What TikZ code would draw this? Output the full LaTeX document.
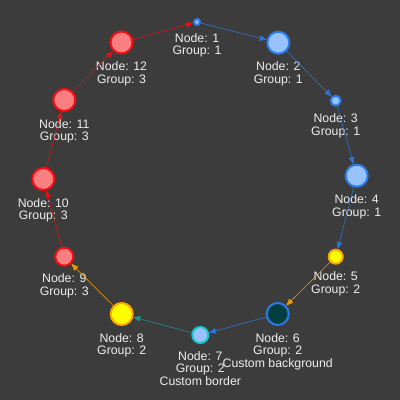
\documentclass[tikz,border=0pt]{standalone}
\usepackage{fontspec}
\setmainfont{Liberation Sans}
\usetikzlibrary{arrows.meta,positioning}
\definecolor{bgdark}{HTML}{3C3C3C}
\definecolor{grpAfill}{HTML}{97C2FC}
\definecolor{grpAline}{HTML}{2B7CE9}
\definecolor{grpBfill}{HTML}{FFFF00}
\definecolor{grpBline}{HTML}{FFA500}
\definecolor{grpCfill}{HTML}{FB7E81}
\definecolor{grpCline}{HTML}{FA0A10}
\definecolor{custbg}{HTML}{033F40}
\definecolor{custline}{HTML}{17C8C8}
\definecolor{lbltext}{HTML}{EEEEEE}
\tikzset{
	dot/.style={circle, draw, line width=2pt, inner sep=0pt, minimum size=#1},
	grpA/.style={dot=#1, fill=grpAfill, draw=grpAline},
	grpB/.style={dot=#1, fill=grpBfill, draw=grpBline},
	grpC/.style={dot=#1, fill=grpCfill, draw=grpCline},
	lbl/.style={text=lbltext, align=center, inner sep=0pt, font=\fontsize{12.3}{12.5}\selectfont},
	link/.style={-{Triangle[length=7pt,width=5.5pt]}, line width=0.6pt, draw opacity=0.85, fill opacity=0.85}
}

\begin{document}
\begin{tikzpicture}[x=1pt, y=-1pt]
		%%%%% START %%%%%
		\fill[bgdark] (0, 0) rectangle (400, 400);
		
		% group 1
		\node[grpA=6pt] (n1) at (197, 22) {};
		\node[grpA=22pt] (n2) at (278.3, 42.7) {};
		\node[grpA=10pt] (n3) at (335.7, 100.7) {};
		\node[grpA=22pt] (n4) at (356.7, 175.7) {};
		
		% group 2
		\node[grpB=14pt] (n5) at (335.7, 256.7) {};
		\node[dot=22pt, fill=custbg, draw=grpAline] (n6) at (277.7, 314) {};
		\node[dot=16pt, fill=grpAfill, draw=custline] (n7) at (200.3, 335) {};
		\node[grpB=22pt] (n8) at (121.7, 314) {};
		
		% group 3
		\node[grpC=18pt] (n9) at (64.3, 256.7) {};
		\node[grpC=22pt] (n10) at (43.3, 179) {};
		\node[grpC=22pt] (n11) at (64.3, 100) {};
		\node[grpC=22pt] (n12) at (121.5, 42.5) {};
		
		\node[lbl, below=7pt of n1] (l1) {Node: 1\\Group: 1};
		\node[lbl, below=7pt of n2] (l2) {Node: 2\\Group: 1};
		\node[lbl, below=7pt of n3] (l3) {Node: 3\\Group: 1};
		\node[lbl, below=7pt of n4] (l4) {Node: 4\\Group: 1};
		\node[lbl, below=7pt of n5] (l5) {Node: 5\\Group: 2};
		\node[lbl, below=7pt of n6] (l6) {Node: 6\\Group: 2\\Custom background};
		\node[lbl, below=7pt of n7] (l7) {Node: 7\\Group: 2\\Custom border};
		\node[lbl, below=7pt of n8] (l8) {Node: 8\\Group: 2};
		\node[lbl, below=7pt of n9] (l9) {Node: 9\\Group: 3};
		\node[lbl, below=7pt of n10] (l10) {Node: 10\\Group: 3};
		\node[lbl, below=7pt of n11] (l11) {Node: 11\\Group: 3};
		\node[lbl, below=7pt of n12] (l12) {Node: 12\\Group: 3};
		
		% ring of edges
		\draw[link, grpAline] (n1) -- (n2);
		\draw[link, grpAline] (n2) -- (n3);
		\draw[link, grpAline] (n3) -- (n4);
		\draw[link, grpAline] (n4) -- (n5);
		\draw[link, grpBline] (n5) -- (n6);
		\draw[link, grpAline] (n6) -- (n7);
		\draw[link, custline!80!black] (n7) -- (n8);
		\draw[link, grpBline] (n8) -- (n9);
		\draw[link, grpCline] (n9) -- (n10);
		\draw[link, grpCline] (n10) -- (n11);
		\draw[link, grpCline] (n11) -- (n12);
		\draw[link, grpCline] (n12) -- (n1);
		%%%%% END %%%%%
	\end{tikzpicture}
\end{document}
